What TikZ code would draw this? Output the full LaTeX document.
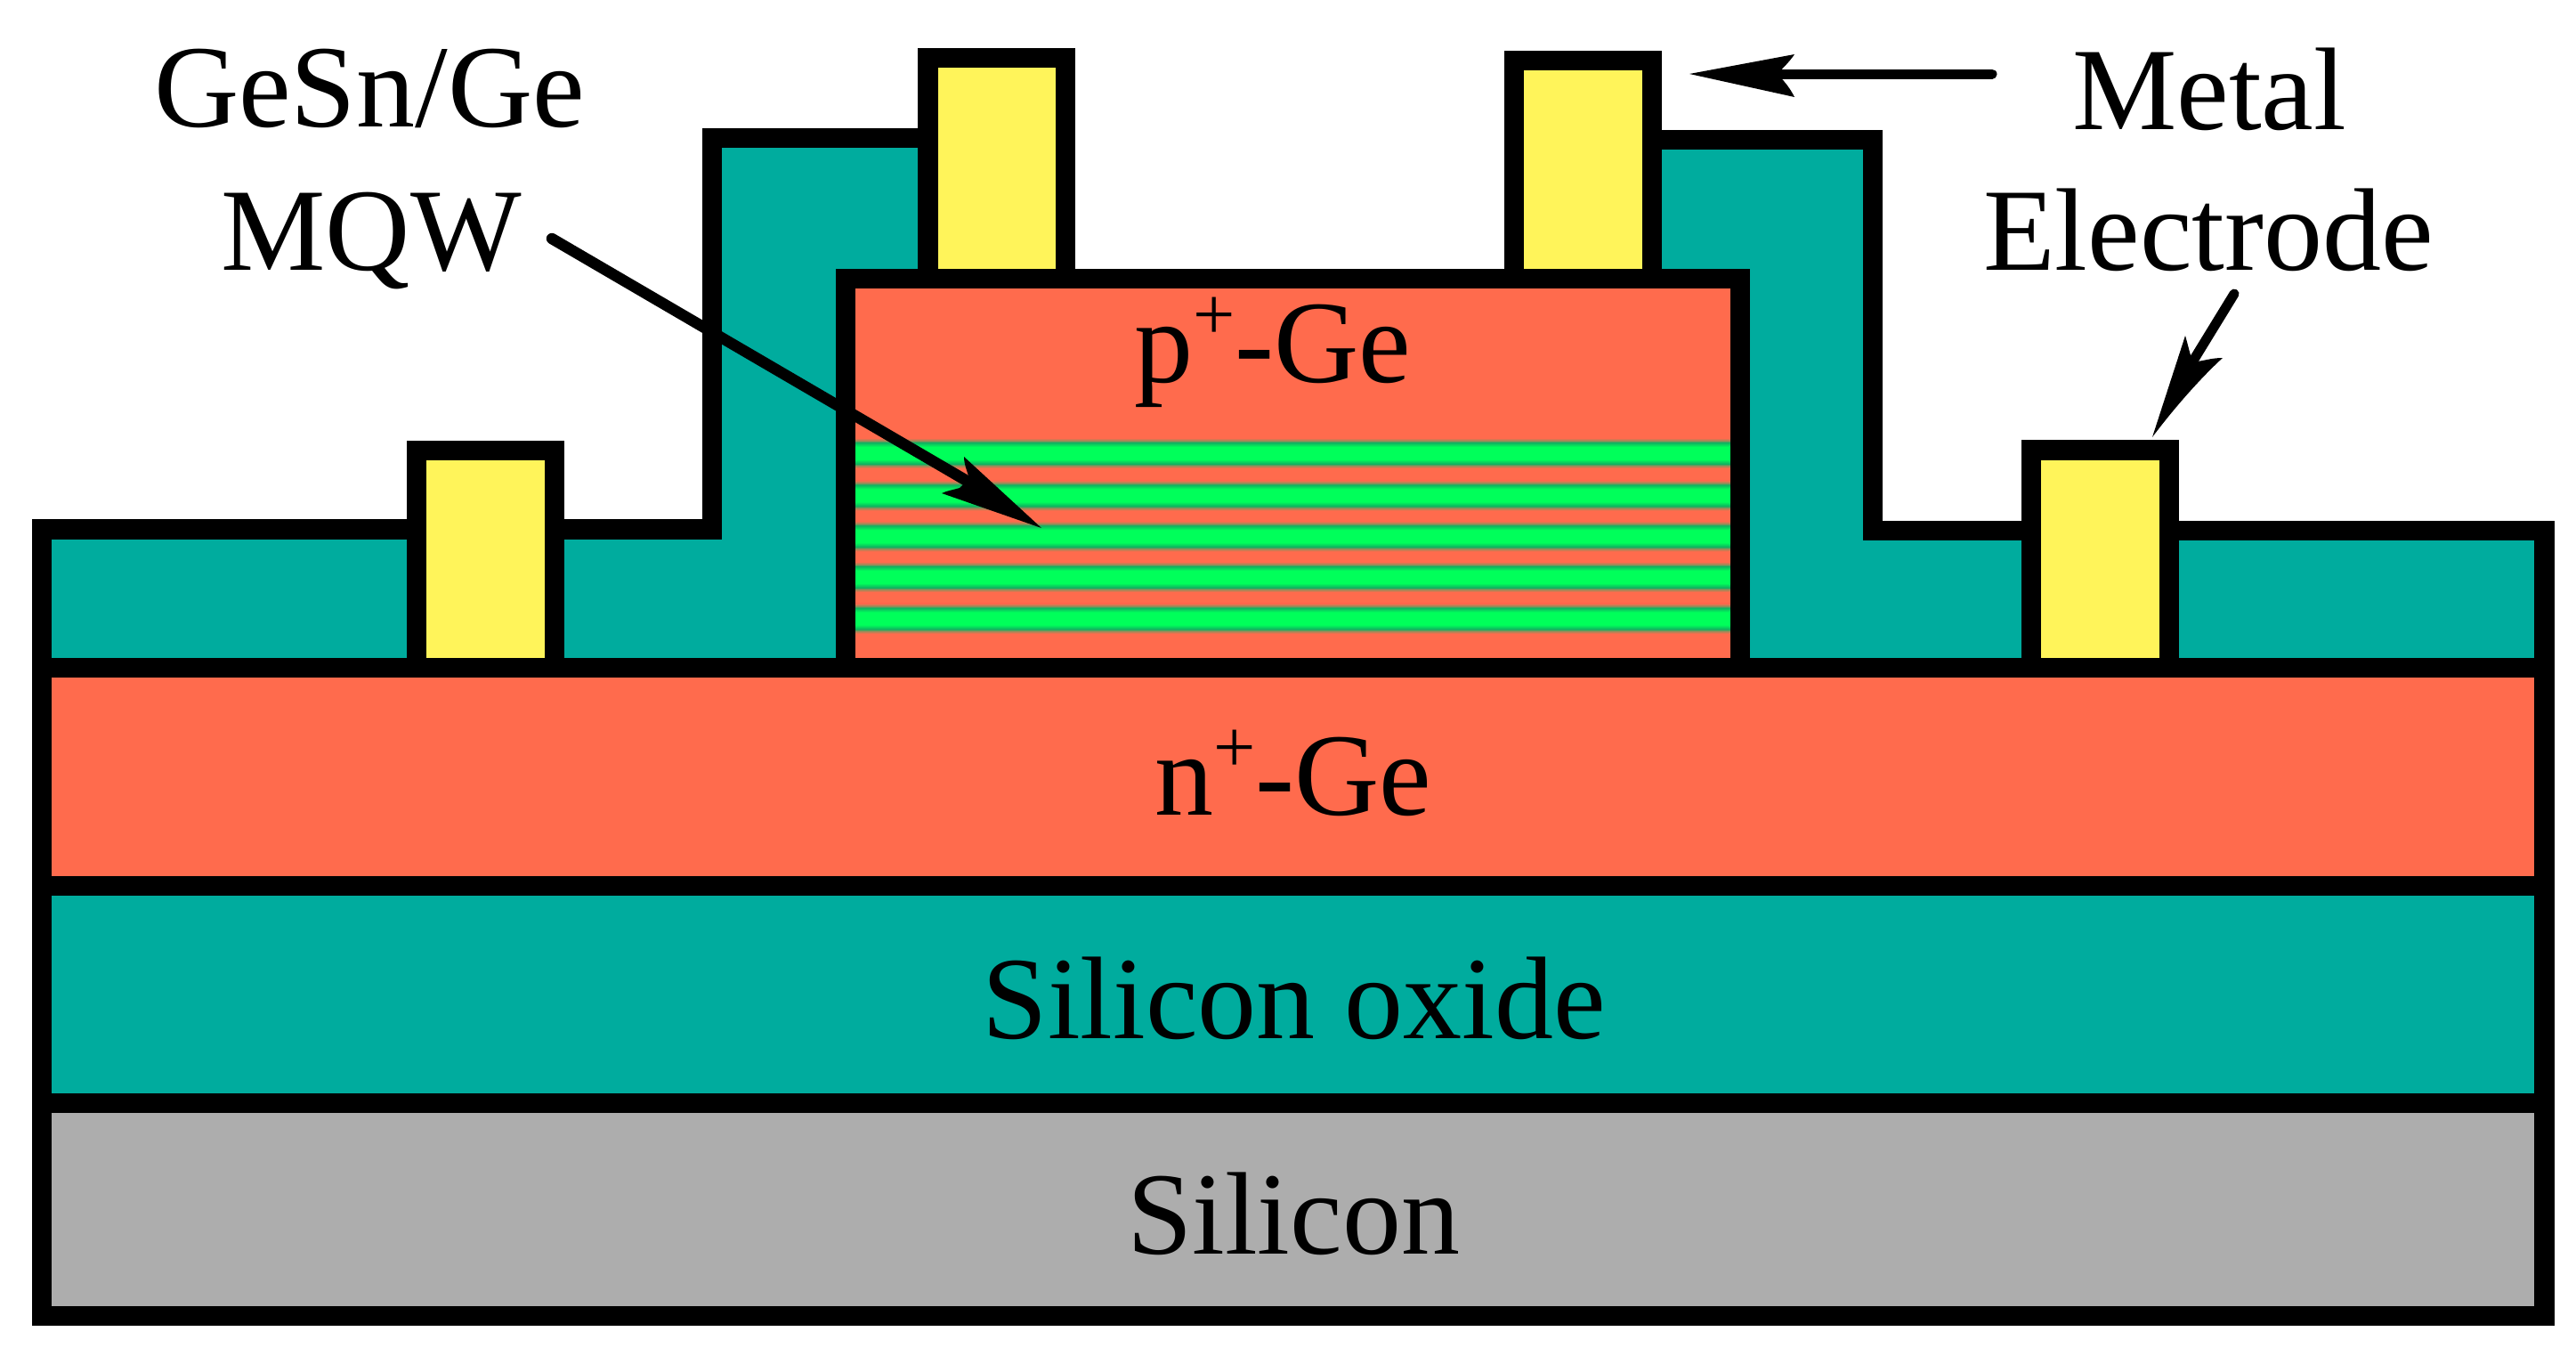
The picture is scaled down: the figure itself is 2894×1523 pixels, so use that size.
\documentclass[tikz,border=0pt]{standalone}
\usepackage{fontspec}
\setmainfont{Liberation Serif}
\definecolor{orangeg}{RGB}{255,107,77}
\definecolor{tealg}{RGB}{0,172,158}
\definecolor{yellowg}{RGB}{255,244,90}
\definecolor{greyg}{RGB}{173,173,173}
\definecolor{fringeg}{RGB}{150,140,90}
\definecolor{darkgreeng}{RGB}{16,176,96}
\definecolor{greeng}{RGB}{0,255,90}
\pgfdeclareverticalshading{qwband}{100bp}{
  color(0bp)=(orangeg); color(25bp)=(orangeg); color(29.4bp)=(fringeg);
  color(32.4bp)=(darkgreeng); color(39.7bp)=(greeng); color(50bp)=(greeng);
  color(60.3bp)=(greeng); color(67.6bp)=(darkgreeng); color(70.6bp)=(fringeg);
  color(75bp)=(orangeg); color(100bp)=(orangeg)}
\newcommand{\supplus}{\raisebox{0.36em}{\fontsize{84}{84}\selectfont +}\kern-1pt}
\tikzset{
  layer/.style={draw=black,line width=22.5pt,miter limit=10},
  label/.style={inner sep=0pt,outer sep=0pt,anchor=base,font=\fontsize{132}{132}\selectfont,text=black},
  leader/.style={draw=black,line width=11pt,line cap=round},
  head/.style={fill=black,draw=none},
  qw/.style={shading=qwband,draw=none}
}
\begin{document}
\begin{tikzpicture}[x=1pt,y=-1pt]
\useasboundingbox (0,0) rectangle (2894,1523);
% substrate stack
\draw[layer,fill=greyg] (47,1239) rectangle (2858.5,1478);
\draw[layer,fill=tealg] (47,995) rectangle (2858.5,1239);
\draw[layer,fill=orangeg] (47,750) rectangle (2858.5,995);
% oxide cladding
\draw[layer,fill=tealg] (47,750) -- (47,594.5) -- (800,594.5) -- (800,155) -- (1120,155) -- (1120,313)
  -- (1780,313) -- (1780,157) -- (2104,157) -- (2104,596) -- (2858.5,596) -- (2858.5,750) -- cycle;
% mesa
\fill[orangeg] (950,313) rectangle (1955,750);
\foreach \yc in {509,556.5,602.3,648,694.7}
  \shade[qw] (961,\yc-17) rectangle (1944,\yc+17);
\draw[layer] (950,313) rectangle (1955,750);
% electrodes
\draw[layer,fill=yellowg] (468,506) rectangle (623,750);
\draw[layer,fill=yellowg] (1042.5,65) rectangle (1197,313);
\draw[layer,fill=yellowg] (1701,68) rectangle (1856,313);
\draw[layer,fill=yellowg] (2282,505.5) rectangle (2437,750);
% labels
\node[label] (gesn) at (415,142) {GeSn/Ge};
\node[label] (mqw) at (417,303) {MQW};
\node[label] (metal) at (2482,145) {Metal};
\node[label] (electrode) at (2481,303) {Electrode};
\node[label] (pge) at (1430,429) {p\supplus-Ge};
\node[label] (nge) at (1453,915) {n\supplus-Ge};
\node[label] (oxide) at (1454,1166) {Silicon oxide};
\node[label] (si) at (1453,1408) {Silicon};
% leader arrows
\coordinate (mqwstart) at (620,268);
\coordinate (mqwneck) at (1086,540);
\coordinate (mqwtip) at (1170,593);
\draw[leader,line width=12.5pt] (mqwstart) -- (mqwneck);
\fill[head] (mqwtip) -- (1083,513)
  .. controls (1083,522) and (1087,530) .. (1089,538)
  -- (1078,548)
  .. controls (1072,550) and (1064,551) .. (1058,554)
  -- (mqwtip) -- cycle;
\coordinate (metalstart) at (2238,83);
\coordinate (metalneck) at (1995,83);
\coordinate (metaltip) at (1898,83);
\draw[leader] (metalstart) -- (metalneck);
\fill[head] (metaltip) -- (2016,61)
  .. controls (2010,70) and (2003,76) .. (1997,83)
  .. controls (2003,90) and (2010,97) .. (2016,109)
  -- (metaltip) -- cycle;
\coordinate (elstart) at (2510,330);
\coordinate (elneck) at (2464,405);
\coordinate (eltip) at (2418,491);
\draw[leader] (elstart) -- (elneck);
\fill[head] (eltip) -- (2455,377)
  .. controls (2458,387) and (2460,397) .. (2463,405)
  .. controls (2470,408) and (2480,402) .. (2497,402)
  .. controls (2475,422) and (2445,455) .. (eltip) -- cycle;
\end{tikzpicture}
\end{document}
